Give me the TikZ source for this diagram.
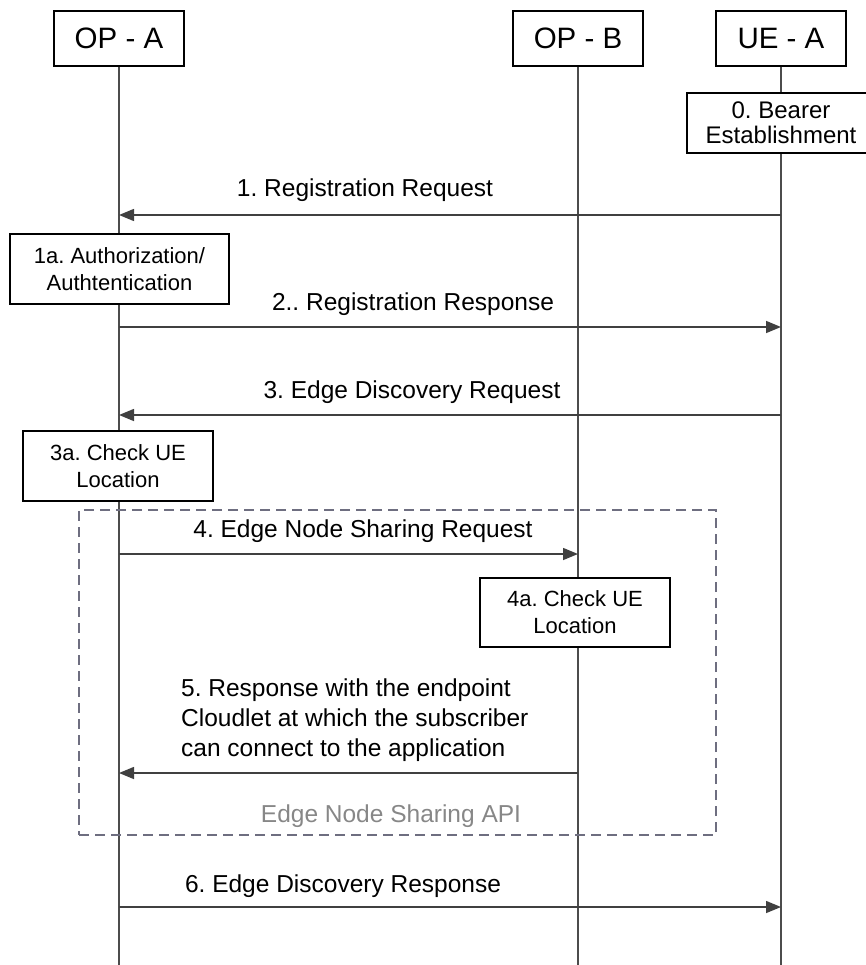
\documentclass[tikz,border=0pt]{standalone}
\usepackage{fontspec}
\setmainfont{Liberation Sans}
\usetikzlibrary{arrows.meta, calc}

\definecolor{sharegray}{RGB}{110,110,128}
\definecolor{apitext}{RGB}{135,135,135}

\begin{document}
\frenchspacing
\begin{tikzpicture}[x=1pt, y=-1pt,
		lane/.style={draw, line width=2pt, fill=white, minimum width=130pt, minimum height=55pt, inner sep=0pt, font=\fontsize{29.5}{32}\selectfont},
		stepbox/.style={draw, line width=1.8pt, fill=white, align=center, inner sep=0pt, font=\fontsize{22}{27}\selectfont},
		life/.style={line width=1.5pt, draw=black!70},
		msg/.style={line width=1.5pt, draw=black!75, -{Triangle[length=15pt,width=12pt]}},
		lbl/.style={anchor=base, inner sep=0pt, font=\fontsize{24.5}{30}\selectfont},
		share/.style={draw=sharegray, line width=2pt, dash pattern=on 10pt off 6pt}]
	\useasboundingbox (0,0) rectangle (865,965);
	
	\def\xa{119}
	\def\xb{578}
	\def\xc{781}
	
	\coordinate (bot) at (0,965);
	
	% lanes
	\node [lane] (hdrA) at (\xa,38.5) {OP - A};
	\node [lane] (hdrB) at (\xb,38.5) {OP - B};
	\node [lane] (hdrC) at (\xc,38.5) {UE - A};
	
	\begin{scope}
		\draw [life] (hdrA.south) -- (hdrA.south |- bot);
		\draw [life] (hdrB.south) -- (hdrB.south |- bot);
		\draw [life] (hdrC.south) -- (hdrC.south |- bot);
	\end{scope}
	
	% sharing area
	\node [share, minimum width=637pt, minimum height=325pt, inner sep=0pt] (area) at (397.5,672.5) {};
	
	% local steps
	\node [stepbox, minimum width=188pt, minimum height=60pt, font=\fontsize{24}{25}\selectfont] (s0) at (\xc,123) {0. Bearer\\Establishment};
	\node [stepbox, minimum width=219pt, minimum height=70pt] (s1a) at (119.5,269) {1a. Authorization/\\Authtentication};
	\node [stepbox, minimum width=190pt, minimum height=70pt] (s3a) at (118,466) {3a. Check UE\\Location};
	\node [stepbox, minimum width=190pt, minimum height=69pt] (s4a) at (575,612.5) {4a. Check UE\\Location};
	
	% messages
	\coordinate (r1) at (0,215);
	\coordinate (r2) at (0,327);
	\coordinate (r3) at (0,415);
	\coordinate (r4) at (0,554);
	\coordinate (r5) at (0,773);
	\coordinate (r6) at (0,907);
	
	\begin{scope}
		\draw [msg] (hdrC |- r1) -- (hdrA |- r1);
		\draw [msg] (hdrA |- r2) -- (hdrC |- r2);
		\draw [msg] (hdrC |- r3) -- (hdrA |- r3);
		\draw [msg] (hdrA |- r4) -- (hdrB |- r4);
		\draw [msg] (hdrB |- r5) -- (hdrA |- r5);
		\draw [msg] (hdrA |- r6) -- (hdrC |- r6);
	\end{scope}
	
	\node [lbl] (l1) at (365,197) {1. Registration Request};
	\node [lbl] (l2) at (413,310) {2.. Registration Response};
	\node [lbl] (l3) at (412,398) {3. Edge Discovery Request};
	\node [lbl] (l4) at (363,537) {4. Edge Node Sharing Request};
	\node [lbl, anchor=north west, align=left] (l5) at (181,679) {5. Response with the endpoint\\Cloudlet at which the subscriber\\can connect to the application};
	\node [lbl, text=apitext] (lapi) at (391,822) {Edge Node Sharing API};
	\node [lbl] (l6) at (343,892) {6. Edge Discovery Response};
\end{tikzpicture}
\end{document}
